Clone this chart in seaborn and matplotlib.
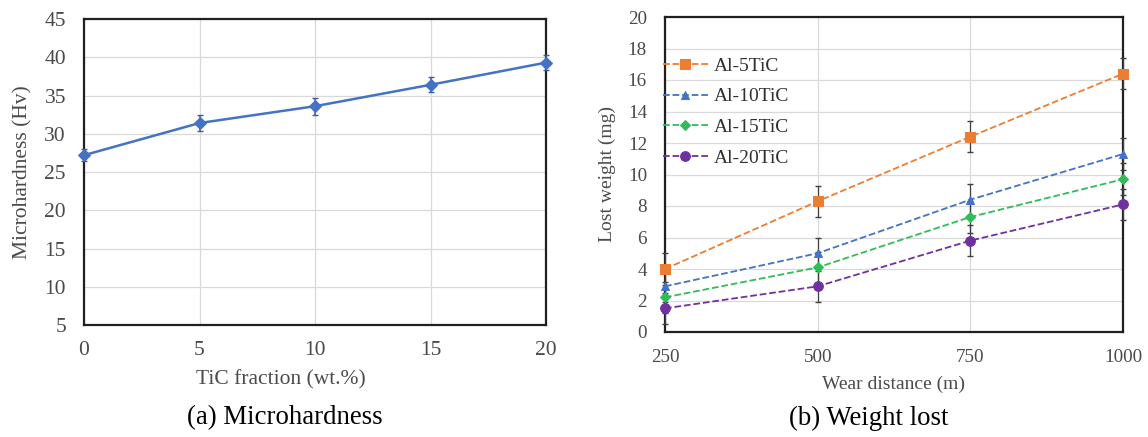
import numpy as np
import pandas as pd
import matplotlib
matplotlib.use("Agg")
import matplotlib.pyplot as plt
import seaborn as sns

# ---- data ----
tic_fraction = [0, 5, 10, 15, 20]
microhardness = [27.2, 31.4, 33.6, 36.4, 39.3]
microhardness_err = [0.8, 1.1, 1.1, 1.0, 1.0]

wear_distance = [250, 500, 750, 1000]
series_names = ["Al-5TiC", "Al-10TiC", "Al-15TiC", "Al-20TiC"]
al5 = [4.0, 8.3, 12.4, 16.4]
al10 = [2.9, 5.0, 8.4, 11.3]
al15 = [2.2, 4.1, 7.3, 9.7]
al20 = [1.5, 2.9, 5.8, 8.1]
wear_err = [1.0, 1.0, 1.0, 1.0]

sns.set_style("white")
plt.rcParams['font.family'] = ['Liberation Serif', 'DejaVu Serif']

fig = plt.figure(figsize=(11.48, 4.37), dpi=100)
W, H = 1148, 437
def rect(l, t, r, b):
    return [l / W, 1 - b / H, (r - l) / W, (b - t) / H]

cap_fs = 19.3
txt_col = '#4a4a4a'

# ---- (a) ----
L1, T1, R1, B1 = 84, 19, 546, 325
ax1 = fig.add_axes(rect(L1, T1, R1, B1))
dfa = pd.DataFrame({"x": tic_fraction, "y": microhardness})
ax1.errorbar(tic_fraction, microhardness, yerr=microhardness_err, fmt='none',
             ecolor='#3a5a9a', elinewidth=1.1, capsize=2.5, zorder=3, clip_on=False)
sns.lineplot(data=dfa, x="x", y="y", ax=ax1, color='#4472C4', marker='D',
             markersize=6, markeredgecolor='#4472C4', linewidth=1.8, zorder=4,
             clip_on=False)
ax1.set_xlim(0, 20)
ax1.set_ylim(5, 45)
ax1.set_xticks([0, 5, 10, 15, 20])
ax1.set_yticks(np.arange(5, 46, 5))
ax1.grid(True, color='#d9d9d9', linewidth=0.9)
ax1.set_xlabel("TiC fraction (wt.%)", fontsize=15.5, color=txt_col, va='center')
ax1.set_ylabel("Microhardness (Hv)", fontsize=15.5, color=txt_col, va='center')
ax1.xaxis.set_label_coords((281 - L1) / (R1 - L1), (B1 - 380) / (B1 - T1))
ax1.yaxis.set_label_coords((23 - L1) / (R1 - L1), 0.5)
ax1.tick_params(axis='x', labelsize=15.5, colors=txt_col, length=0, pad=11.5)
ax1.tick_params(axis='y', labelsize=15.5, colors=txt_col, length=0, pad=13)
for s in ax1.spines.values():
    s.set_color('#202020'); s.set_linewidth(1.6)
fig.text(285 / W, 1 - 418 / H, "(a) Microhardness", ha='center', va='center',
         fontsize=cap_fs, color='black')

# ---- (b) ----
L2, T2, R2, B2 = 665, 17, 1123, 332
ax2 = fig.add_axes(rect(L2, T2, R2, B2))
colors = ['#ED7D31', '#4472C4', '#2ebd59', '#7030A0']
markers = ['s', '^', 'D', 'o']
msizes = [7, 6, 5, 7]
vals = [al5, al10, al15, al20]
rows = []
for name, v in zip(series_names, vals):
    for x, y in zip(wear_distance, v):
        rows.append({"distance": x, "weight": y, "alloy": name})
dfb = pd.DataFrame(rows)
for name, v, c in zip(series_names, vals, colors):
    ax2.errorbar(wear_distance, v, yerr=wear_err, fmt='none', ecolor='#404040',
                 elinewidth=0.9, capsize=2, zorder=3, clip_on=False)
for name, c, m, ms in zip(series_names, colors, markers, msizes):
    sns.lineplot(data=dfb[dfb.alloy == name], x="distance", y="weight", ax=ax2,
                 color=c, marker=m, markersize=ms, markeredgecolor=c,
                 linestyle='--', linewidth=1.3, label=name, zorder=4, clip_on=False)
ax2.set_xlim(250, 1000)
ax2.set_ylim(0, 20)
ax2.set_xticks(wear_distance)
ax2.set_yticks(np.arange(0, 21, 2))
ax2.grid(True, color='#d9d9d9', linewidth=0.9)
ax2.set_xlabel("Wear distance (m)", fontsize=14, color=txt_col, va='center')
ax2.set_ylabel("Lost weight (mg)", fontsize=14, color=txt_col, va='center')
ax2.xaxis.set_label_coords(0.5, (B2 - 384) / (B2 - T2))
ax2.yaxis.set_label_coords((607 - L2) / (R2 - L2), 0.5)
ax2.tick_params(axis='x', labelsize=13.8, colors=txt_col, length=0, pad=12.5)
ax2.tick_params(axis='y', labelsize=13.8, colors=txt_col, length=0, pad=13)
for s in ax2.spines.values():
    s.set_color('#202020'); s.set_linewidth(1.6)
leg = ax2.legend(loc='upper left',
                 bbox_to_anchor=((663 - L2) / (R2 - L2), (B2 - 57) / (B2 - T2)),
                 frameon=False, fontsize=14, handlelength=2.3, handletextpad=0.3,
                 labelspacing=0.68, borderaxespad=0, borderpad=0)
for t in leg.get_texts():
    t.set_color('#303030')
fig.text(869 / W, 1 - 418 / H, "(b) Weight lost", ha='center', va='center',
         fontsize=cap_fs, color='black')

fig.savefig("out.png", dpi=100)
